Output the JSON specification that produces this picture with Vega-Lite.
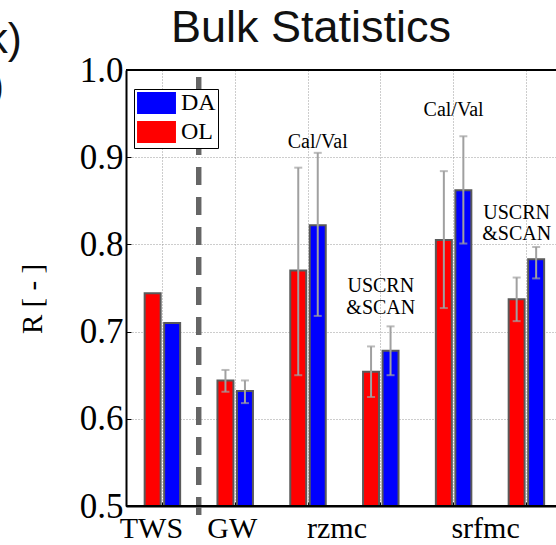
{
  "$schema": "https://vega.github.io/schema/vega-lite/v6.json",
  "width": 430,
  "height": 436,
  "autosize": {"type": "none"},
  "padding": {"left": 126, "top": 70, "right": 0, "bottom": 39},
  "background": "white",
  "config": {"view": {"stroke": null}, "font": "Liberation Serif"},
  "datasets": {
    "bars": [
      {"cat": "TWS", "series": "OL", "r": 0.744, "lo": null, "hi": null},
      {"cat": "TWS", "series": "DA", "r": 0.710, "lo": null, "hi": null},
      {"cat": "GW", "series": "OL", "r": 0.644, "lo": 0.631, "hi": 0.656},
      {"cat": "GW", "series": "DA", "r": 0.632, "lo": 0.618, "hi": 0.644},
      {"cat": "rzmc_cv", "series": "OL", "r": 0.770, "lo": 0.650, "hi": 0.888},
      {"cat": "rzmc_cv", "series": "DA", "r": 0.822, "lo": 0.718, "hi": 0.905},
      {"cat": "rzmc_us", "series": "OL", "r": 0.654, "lo": 0.625, "hi": 0.683},
      {"cat": "rzmc_us", "series": "DA", "r": 0.678, "lo": 0.650, "hi": 0.706},
      {"cat": "srfmc_cv", "series": "OL", "r": 0.805, "lo": 0.727, "hi": 0.884},
      {"cat": "srfmc_cv", "series": "DA", "r": 0.862, "lo": 0.801, "hi": 0.924},
      {"cat": "srfmc_us", "series": "OL", "r": 0.737, "lo": 0.712, "hi": 0.762},
      {"cat": "srfmc_us", "series": "DA", "r": 0.783, "lo": 0.761, "hi": 0.797}
    ],
    "notesOffset": [
      {"cat": "rzmc_cv", "at": "DA", "y": 0.9106, "t": "Cal/Val"},
      {"cat": "srfmc_us", "at": "OL", "y": 0.8291, "t": "USCRN"},
      {"cat": "srfmc_us", "at": "OL", "y": 0.8050, "t": "&SCAN"}
    ],
    "notesCenter": [
      {"cat": "rzmc_us", "y": 0.7454, "t": "USCRN"},
      {"cat": "rzmc_us", "y": 0.7202, "t": "&SCAN"},
      {"cat": "srfmc_cv", "y": 0.9472, "t": "Cal/Val"}
    ],
    "edge": [
      {"px": -0.93, "py": 1.0195, "t": "k)"},
      {"px": -1.175, "py": 0.9656, "t": ")"}
    ],
    "heading": [
      {"px": 3.038, "py": 1.0321, "t": "Bulk Statistics"}
    ]
  },
  "layer": [
    {
      "data": {"name": "bars"},
      "layer": [
        {
          "mark": {"type": "bar", "stroke": "#5a5a5a", "strokeWidth": 2},
          "encoding": {
            "x": {
              "field": "cat",
              "type": "nominal",
              "sort": null,
              "scale": {
                "domain": ["TWS", "GW", "rzmc_cv", "rzmc_us", "srfmc_cv", "srfmc_us"],
                "range": [0, 436.8],
                "paddingInner": 0,
                "paddingOuter": 0
              },
              "axis": {
                "title": null,
                "labelExpr": "datum.value == 'TWS' ? 'TWS' : datum.value == 'GW' ? 'GW' : datum.value == 'rzmc_cv' ? 'rzmc' : datum.value == 'srfmc_cv' ? 'srfmc' : ''",
                "labelFont": "Liberation Serif",
                "labelFontSize": 30,
                "labelColor": "black",
                "labelPadding": 11,
                "labelOverlap": false,
                "labelAngle": 0,
                "labelBound": false,
                "labelOffset": {
                  "condition": [
                    {"test": "datum.value == 'TWS'", "value": -11},
                    {"test": "datum.value == 'GW'", "value": -3},
                    {"test": "datum.value == 'rzmc_cv'", "value": 29},
                    {"test": "datum.value == 'srfmc_cv'", "value": 32}
                  ],
                  "value": 0
                },
                "tickSize": -4,
                "tickColor": "black",
                "tickWidth": 1,
                "domainColor": "black",
                "domainWidth": 2,
                "grid": true,
                "gridDash": [1, 2],
                "gridColor": "#9a9a9a",
                "gridWidth": 1
              }
            },
            "xOffset": {
              "field": "series",
              "type": "nominal",
              "sort": null,
              "scale": {"domain": ["OL", "DA"], "paddingInner": 0.18, "paddingOuter": 0.957}
            },
            "y": {
              "field": "r",
              "type": "quantitative",
              "title": "R [ - ]",
              "scale": {"domain": [0.5, 1.0], "zero": false, "nice": false},
              "axis": {
                "values": [0.5, 0.6, 0.7, 0.8, 0.9, 1.0],
                "format": ".1f",
                "titleFont": "Liberation Serif",
                "titleFontSize": 29,
                "titleFontWeight": "normal",
                "titleColor": "black",
                "titleX": -94,
                "titleY": 228.5,
                "titleAngle": -90,
                "titleAlign": "center",
                "titleBaseline": "middle",
                "labelFont": "Liberation Serif",
                "labelFontSize": 35,
                "labelColor": "black",
                "labelPadding": 8,
                "labelFlush": false,
                "labelOverlap": false,
                "tickSize": -5,
                "tickColor": "black",
                "domainColor": "black",
                "domainWidth": 2,
                "grid": true,
                "gridDash": [1, 2],
                "gridColor": "#9a9a9a",
                "gridWidth": 1
              }
            },
            "y2": {"datum": 0.5},
            "color": {
              "field": "series",
              "type": "nominal",
              "scale": {"domain": ["DA", "OL"], "range": ["#0000ff", "#ff0000"]},
              "legend": {
                "orient": "none",
                "legendX": 8,
                "legendY": 19,
                "title": null,
                "direction": "vertical",
                "symbolType": "M-1.77,-1L1.77,-1L1.77,1L-1.77,1Z",
                "symbolSize": 484,
                "symbolOffset": 8.5,
                "symbolStrokeColor": "#808080",
                "symbolStrokeWidth": 1.5,
                "labelFont": "Liberation Serif",
                "labelFontSize": 24,
                "labelColor": "black",
                "labelOffset": 12.5,
                "padding": 2,
                "rowPadding": 1,
                "fillColor": "white",
                "strokeColor": "black",
                "encode": {
                  "symbols": {
                    "update": {
                      "fill": {"signal": "datum.value == 'DA' ? '#2a4fc0' : '#e8222a'"}
                    }
                  }
                }
              }
            }
          }
        },
        {
          "mark": {"type": "rule", "color": "#a0a0a0", "strokeWidth": 2},
          "encoding": {
            "x": {"field": "cat", "type": "nominal", "sort": null},
            "xOffset": {"field": "series", "type": "nominal", "sort": null},
            "y": {"field": "lo", "type": "quantitative", "title": "R [ - ]"},
            "y2": {"field": "hi"}
          }
        },
        {
          "mark": {"type": "tick", "color": "#a0a0a0", "thickness": 2, "size": 8, "orient": "horizontal"},
          "encoding": {
            "x": {"field": "cat", "type": "nominal", "sort": null},
            "xOffset": {"field": "series", "type": "nominal", "sort": null},
            "y": {"field": "hi", "type": "quantitative", "title": "R [ - ]"}
          }
        },
        {
          "mark": {"type": "tick", "color": "#a0a0a0", "thickness": 2, "size": 8, "orient": "horizontal"},
          "encoding": {
            "x": {"field": "cat", "type": "nominal", "sort": null},
            "xOffset": {"field": "series", "type": "nominal", "sort": null},
            "y": {"field": "lo", "type": "quantitative", "title": "R [ - ]"}
          }
        },
        {
          "mark": {"type": "rule", "color": "#666666", "strokeWidth": 4.5, "strokeDash": [18, 12], "strokeDashOffset": 23, "clip": false},
          "encoding": {
            "x": {"datum": "GW", "type": "nominal", "bandPosition": 0},
            "y": {"datum": 1.0, "type": "quantitative"},
            "y2": {"datum": 0.487}
          }
        },
        {
          "mark": {"type": "rule", "color": "black", "strokeWidth": 2},
          "encoding": {"y": {"datum": 1.0, "type": "quantitative"}}
        },
        {
          "mark": {"type": "rule", "color": "black", "strokeWidth": 2},
          "encoding": {"y": {"datum": 0.5, "type": "quantitative"}}
        },
        {
          "data": {"name": "notesOffset"},
          "mark": {"type": "text", "font": "Liberation Serif", "fontSize": 20, "color": "black", "baseline": "alphabetic", "align": "center"},
          "encoding": {
            "x": {"field": "cat", "type": "nominal", "sort": null},
            "xOffset": {"field": "at", "type": "nominal", "sort": null},
            "y": {"field": "y", "type": "quantitative", "title": "R [ - ]"},
            "text": {"field": "t"}
          }
        },
        {
          "data": {"name": "notesCenter"},
          "mark": {"type": "text", "font": "Liberation Serif", "fontSize": 20, "color": "black", "baseline": "alphabetic", "align": "center"},
          "encoding": {
            "x": {"field": "cat", "type": "nominal", "sort": null},
            "y": {"field": "y", "type": "quantitative", "title": "R [ - ]"},
            "text": {"field": "t"}
          }
        }
      ]
    },
    {
      "data": {"name": "edge"},
      "mark": {"type": "text", "font": "Liberation Sans", "fontSize": 42, "align": "right", "baseline": "alphabetic", "color": "#111111", "clip": false},
      "encoding": {
        "x": {"field": "px", "type": "quantitative", "scale": {"domain": [0.5, 6.4], "nice": false, "zero": false}, "axis": null},
        "y": {"field": "py", "type": "quantitative", "title": "R [ - ]"},
        "text": {"field": "t"}
      }
    },
    {
      "data": {"name": "heading"},
      "mark": {"type": "text", "font": "Liberation Sans", "fontSize": 45, "align": "center", "baseline": "alphabetic", "color": "#111111", "clip": false},
      "encoding": {
        "x": {"field": "px", "type": "quantitative", "scale": {"domain": [0.5, 6.4], "nice": false, "zero": false}, "axis": null},
        "y": {"field": "py", "type": "quantitative", "title": "R [ - ]"},
        "text": {"field": "t"}
      }
    }
  ],
  "resolve": {"scale": {"x": "independent"}}
}
